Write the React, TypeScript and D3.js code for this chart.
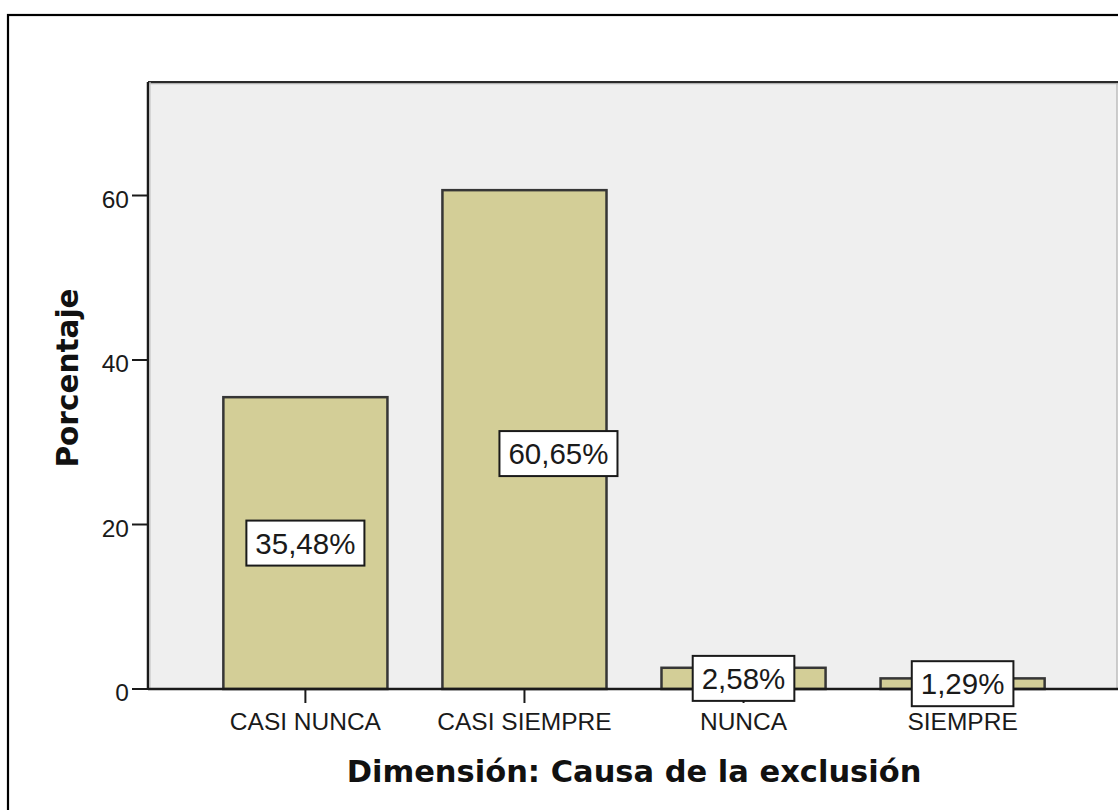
import React from "react";
import * as d3 from "d3";

const categories = ["CASI NUNCA", "CASI SIEMPRE", "NUNCA", "SIEMPRE"];
const percentages = [35.48, 60.65, 2.58, 1.29];
const valueLabels = ["35,48%", "60,65%", "2,58%", "1,29%"];
const yTicks = [0, 20, 40, 60];
// label anchor shift in pixels (SPSS collision placement)
const labelShiftX = [0, 34, 0, 0];
const labelShiftY = [0, 14, 0, 0];

const W = 1118;
const H = 810;
const plotLeft = 148;
const plotRight = 1120;
const plotTop = 82;
const plotBottom = 689;

export default function App() {
  const x = d3
    .scaleBand<string>()
    .domain(categories)
    .range([plotLeft, plotRight])
    .paddingInner(0.251)
    .paddingOuter(0.344);
  const y = d3.scaleLinear().domain([0, 73.8]).range([plotBottom, plotTop]);

  const labelFont = 29.5;
  const charW = (s: string) => {
    let w = 0;
    for (const c of s) {
      if (c === ",") w += 0.278;
      else if (c === "%") w += 0.889;
      else w += 0.556;
    }
    return w * labelFont;
  };

  return (
    <svg
      width={W}
      height={H}
      style={{ position: "absolute", left: 0, top: 0, background: "#fff" }}
      fontFamily="'Liberation Sans', Arial, sans-serif"
    >
      {/* outer frame */}
      <rect x={8} y={15} width={W + 20} height={H + 20} fill="none" stroke="#000" strokeWidth={2.2} />

      {/* plot background */}
      <rect x={plotLeft} y={plotTop} width={1117 - plotLeft} height={plotBottom - plotTop} fill="#EFEFEF" />
      <line x1={1117} x2={1117} y1={plotTop} y2={plotBottom} stroke="#bdbdbd" strokeWidth={1.5} />
      <line x1={plotLeft} x2={W} y1={plotTop + 1.5} y2={plotTop + 1.5} stroke="#b0b0b0" strokeWidth={1.5} />
      <line x1={plotLeft} x2={W} y1={plotTop} y2={plotTop} stroke="#2a2a2a" strokeWidth={2} />

      {/* bars */}
      {categories.map((c, i) => (
        <rect
          key={c}
          x={x(c)!}
          y={y(percentages[i])}
          width={x.bandwidth()}
          height={plotBottom - y(percentages[i])}
          fill="#D3CE97"
          stroke="#363636"
          strokeWidth={2.5}
        />
      ))}

      {/* y axis */}
      <line x1={plotLeft} x2={plotLeft} y1={plotTop} y2={plotBottom} stroke="#1a1a1a" strokeWidth={2.5} />
      <line x1={plotLeft + 2} x2={plotLeft + 2} y1={plotTop} y2={plotBottom} stroke="#c4c4c4" strokeWidth={1.2} />
      {yTicks.map((t) => (
        <g key={t}>
          <line x1={132} x2={plotLeft} y1={y(t)} y2={y(t)} stroke="#1a1a1a" strokeWidth={2} />
          <text x={129} y={y(t) + 12} textAnchor="end" fontSize={24.5} fill="#1a1a1a">
            {t}
          </text>
        </g>
      ))}

      {/* x axis */}
      <line x1={plotLeft} x2={W} y1={plotBottom} y2={plotBottom} stroke="#1a1a1a" strokeWidth={2.5} />
      {categories.map((c) => {
        const cx = x(c)! + x.bandwidth() / 2;
        return (
          <g key={c}>
            <line x1={cx} x2={cx} y1={plotBottom} y2={plotBottom + 14} stroke="#1a1a1a" strokeWidth={2} />
            <text x={cx} y={730} textAnchor="middle" fontSize={24.5} fill="#1a1a1a">
              {c}
            </text>
          </g>
        );
      })}

      {/* value labels */}
      {categories.map((c, i) => {
        const cx = x(c)! + x.bandwidth() / 2 + labelShiftX[i];
        const cy = y(percentages[i] / 2) + labelShiftY[i];
        const tw = charW(valueLabels[i]);
        const bw = tw + 18;
        const bh = 45;
        return (
          <g key={c + "l"}>
            <rect x={cx - bw / 2} y={cy - bh / 2} width={bw} height={bh} fill="#fff" stroke="#1a1a1a" strokeWidth={2} />
            <text x={cx} y={cy + 10.5} textAnchor="middle" fontSize={labelFont} fill="#1a1a1a">
              {valueLabels[i]}
            </text>
          </g>
        );
      })}

      {/* axis titles */}
      <text
        x={634}
        y={782}
        textAnchor="middle"
        fontSize={30.5}
        fontWeight="bold"
        fontFamily="'DejaVu Sans', Verdana, sans-serif"
        fill="#111"
      >
        Dimensión: Causa de la exclusión
      </text>
      <text
        transform={`translate(78,378) rotate(-90)`}
        textAnchor="middle"
        fontSize={29.5}
        fontWeight="bold"
        fontFamily="'DejaVu Sans', Verdana, sans-serif"
        fill="#111"
      >
        Porcentaje
      </text>
    </svg>
  );
}
